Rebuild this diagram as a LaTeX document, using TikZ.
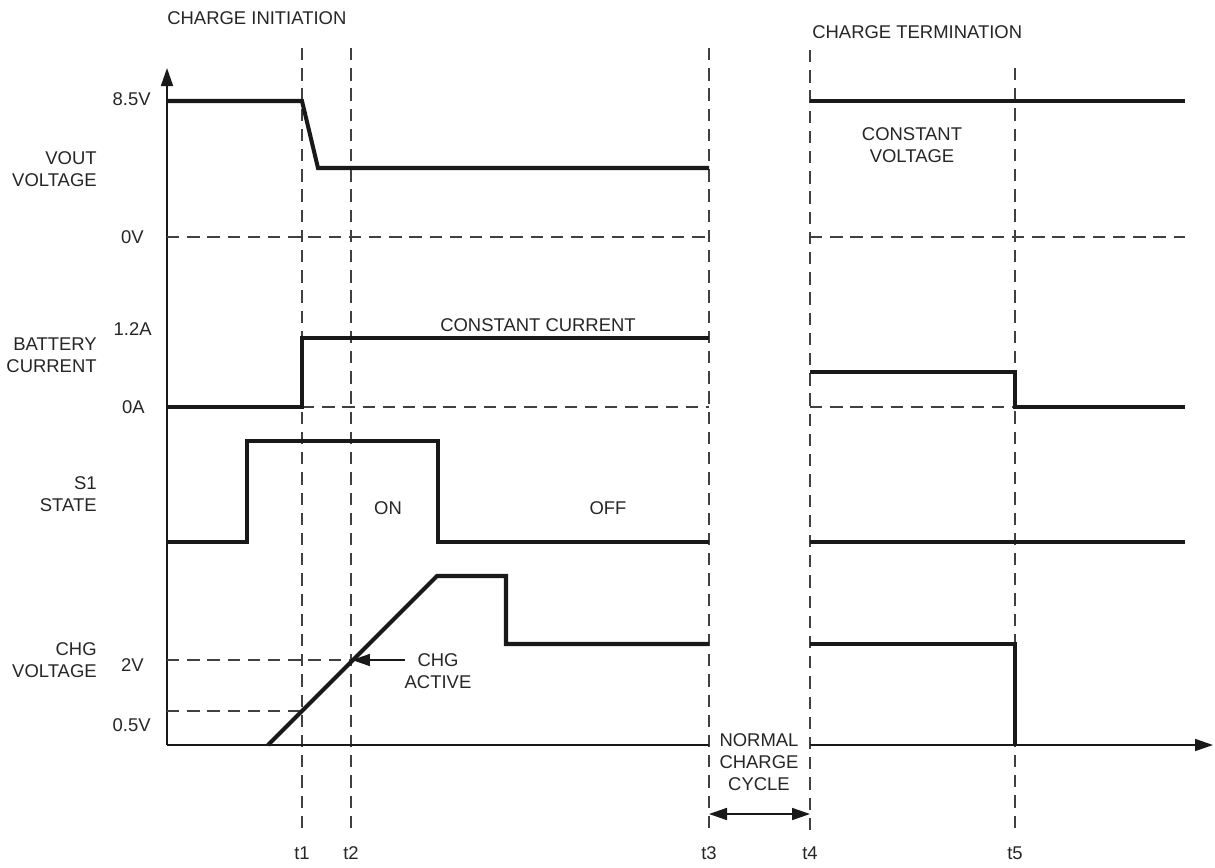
\documentclass[tikz,border=0pt]{standalone}
\usepackage{fontspec}
\setmainfont{Liberation Sans}
\usetikzlibrary{arrows.meta}
\begin{document}
\begin{tikzpicture}[x=0.02cm,y=-0.02cm,
  sig/.style={line width=2.3pt,color=black!90,line join=miter},
  axisline/.style={line width=0.9pt,color=black!90},
  guide/.style={line width=0.6pt,color=black!75,dash pattern=on 7pt off 4.5pt},
  lbl/.style={font=\fontsize{10.5}{12.6}\selectfont,text=black!85,inner sep=0pt,align=center},
  rlbl/.style={lbl,anchor=east,align=right},
  tip/.style={-{Triangle[length=0.36cm,width=0.24cm]}}]
\useasboundingbox (0,0) rectangle (1215,867);
\fill[white] (0,0) rectangle (1215,867);
% time markers
\foreach \nm/\xx/\yy in {t1/302/48,t2/351/48,t3/709/48,t4/810/50,t5/1015/68}{
  \coordinate (\nm top) at (\xx,\yy);
  \coordinate (\nm bot) at (\xx,830);
  \draw[guide] (\nm top) -- (\nm bot);
}
\node[lbl] (lt1) at (302,853) {t1};
\node[lbl] (lt2) at (351,853) {t2};
\node[lbl] (lt3) at (709,853) {t3};
\node[lbl] (lt4) at (810,853) {t4};
\node[lbl] (lt5) at (1015,853) {t5};
% axes
\coordinate (org) at (167,745);
\coordinate (ytip) at (167,68);
\coordinate (xa) at (709,745);
\coordinate (xb) at (810,745);
\coordinate (xtip) at (1213,745);
\draw[axisline,tip] (org) -- (ytip);
\draw[axisline] (org) -- (xa);
\draw[axisline,tip] (xb) -- (xtip);
% dashed reference levels
\draw[guide] (167,237) -- (709,237);
\draw[guide] (810,237) -- (1185,237);
\draw[guide] (302,407) -- (709,407);
\draw[guide] (810,407) -- (1015,407);
\draw[guide] (167,660) -- (351,660);
\draw[guide] (167,711) -- (302,711);
% VOUT
\draw[sig] (167,101) -- (302,101) -- (318,168) -- (709,168);
\draw[sig] (810,101) -- (1185,101);
% battery current
\draw[sig] (167,407) -- (302,407) -- (302,338) -- (709,338);
\draw[sig] (810,372) -- (1015,372) -- (1015,407) -- (1185,407);
% S1 state
\draw[sig] (167,542) -- (247,542) -- (247,441) -- (438,441) -- (438,542) -- (709,542);
\draw[sig] (810,542) -- (1185,542);
% CHG voltage
\draw[sig] (268,745) -- (437,576) -- (506,576) -- (506,644) -- (709,644);
\draw[sig] (810,644) -- (1015,644) -- (1015,745);
% texts
\node[lbl,anchor=west] (ci) at (167,18) {CHARGE INITIATION};
\node[lbl,anchor=west] (ct) at (812,32) {CHARGE TERMINATION};
\node[rlbl] (v85) at (151,99) {8.5V};
\node[rlbl] (vout) at (97,169) {VOUT\\VOLTAGE};
\node[rlbl] (v0) at (144,237) {0V};
\node[rlbl] (a12) at (152,329) {1.2A};
\node[rlbl] (bat) at (97,355) {BATTERY\\CURRENT};
\node[rlbl] (a0) at (145,407) {0A};
\node[rlbl] (s1) at (97,494) {S1\\STATE};
\node[rlbl] (chg) at (97,660) {CHG\\VOLTAGE};
\node[rlbl] (v2) at (144,665) {2V};
\node[rlbl] (v05) at (151,725) {0.5V};
\node[lbl] (on) at (388,508) {ON};
\node[lbl] (off) at (608,508) {OFF};
\node[lbl] (cc) at (538,325) {CONSTANT CURRENT};
\node[lbl] (cv) at (912,145) {CONSTANT\\VOLTAGE};
\node[lbl] (ncc) at (759,762) {NORMAL\\CHARGE\\CYCLE};
\node[lbl] (act) at (438,671) {CHG\\ACTIVE};
\coordinate (actstart) at (405,660);
\coordinate (actend) at (352,660);
\draw[axisline,tip] (actstart) -- (actend);
\coordinate (ncl) at (709,814);
\coordinate (ncr) at (810,814);
\draw[axisline,{Triangle[length=0.36cm,width=0.24cm]}-{Triangle[length=0.36cm,width=0.24cm]}] (ncl) -- (ncr);
\end{tikzpicture}
\end{document}
